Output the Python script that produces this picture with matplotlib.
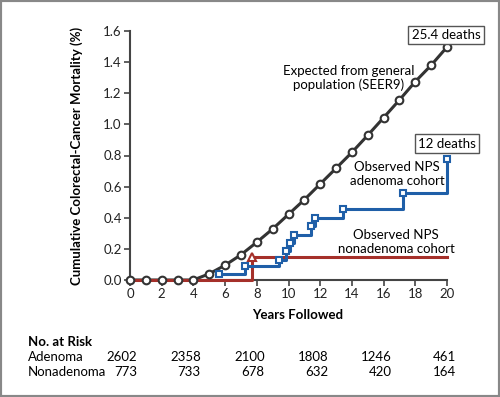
import matplotlib
matplotlib.use("Agg")
import matplotlib.pyplot as plt
from matplotlib.patches import Rectangle

# Data
exp_years = list(range(0, 21))
exp_vals = [0, 0, 0, 0, 0, 0.04, 0.095, 0.162, 0.243, 0.328, 0.422, 0.516, 0.617,
            0.718, 0.82, 0.93, 1.043, 1.157, 1.275, 1.38, 1.497]
aden_x = [5.6, 7.25, 9.4, 9.85, 10.1, 10.35, 11.4, 11.7, 13.45, 17.25, 20.0]
aden_y = [0.04, 0.09, 0.13, 0.185, 0.24, 0.29, 0.345, 0.40, 0.455, 0.56, 0.78]
non_x = [0, 7.7, 20]
non_y = [0, 0.145, 0.145]
risk_years = [0, 4, 8, 12, 16, 20]
risk_aden = ["2602", "2358", "2100", "1808", "1246", "461"]
risk_non = ["773", "733", "678", "632", "420", "164"]

plt.rcParams['font.family'] = ['Lato', 'DejaVu Sans']
FS = 9.5
W, H = 500, 397
fig = plt.figure(figsize=(W / 100, H / 100), dpi=100)
fig.patches.append(Rectangle((0, 0), 1, 1, transform=fig.transFigure, fill=False,
                             edgecolor='#888888', linewidth=3))

ax = fig.add_axes([130 / W, 1 - 280 / H, (447 - 130) / W, (280 - 31) / H])
black = '#333333'
blue = '#1f5fa8'
red = '#a5302a'
axc = '#444444'

ax.plot(exp_years, exp_vals, color=black, lw=2.2, zorder=3, clip_on=False)
ax.step(non_x, non_y, where='post', color=red, lw=2.2, zorder=4, clip_on=False)
ax.plot([non_x[1]], [non_y[1]], marker='^', ms=6, mfc='white', mec=red, mew=1.5,
        zorder=6, clip_on=False, ls='none')
ax.step(aden_x, aden_y, where='post', color=blue, lw=2.2, zorder=4, clip_on=False)
ax.plot(aden_x, aden_y, marker='s', ms=4.8, mfc='white', mec=blue, mew=1.5,
        ls='none', zorder=6, clip_on=False)
ax.plot(exp_years, exp_vals, marker='o', ms=5.5, mfc='white', mec=black, mew=1.5,
        ls='none', zorder=7, clip_on=False)

ax.set_xlim(0, 20)
ax.set_ylim(0, 1.6)
ax.set_xticks(range(0, 21, 2))
ax.set_yticks([i * 0.2 for i in range(9)])
ax.set_yticklabels([f"{i * 0.2:.1f}" for i in range(9)])
for s in ['top', 'right']:
    ax.spines[s].set_visible(False)
for s in ['left', 'bottom']:
    ax.spines[s].set_color(axc)
    ax.spines[s].set_linewidth(1.5)
ax.tick_params(direction='out', length=4, width=1.2, color=axc, labelsize=FS,
               labelcolor='#222222', pad=2)
ax.set_xlabel("Years Followed", fontsize=FS, fontweight='bold')
ax.set_ylabel("Cumulative Colorectal-Cancer Mortality (%)", fontsize=FS,
              fontweight='bold')
ax.xaxis.set_label_coords(0.53, -0.115)
ax.yaxis.set_label_coords(-0.148, 0.5)

bbox = dict(boxstyle='square,pad=0.25', fc='white', ec='#555555', lw=1)
def fx(px):
    return px / W
def fy(py):
    return 1 - py / H

fig.text(fx(446), fy(35), "25.4 deaths", ha='center', va='center', fontsize=FS, bbox=bbox)
fig.text(fx(447), fy(143.5), "12 deaths", ha='center', va='center', fontsize=FS, bbox=bbox)
fig.text(fx(349), fy(78), "Expected from general\npopulation (SEER9)", ha='center',
         va='center', fontsize=FS, linespacing=1.15)
fig.text(fx(397), fy(174), "Observed NPS\nadenoma cohort", ha='center',
         va='center', fontsize=FS, linespacing=1.15)
fig.text(fx(396), fy(242), "Observed NPS\nnonadenoma cohort", ha='center',
         va='center', fontsize=FS, linespacing=1.15)

# Number at risk table
fig.text(fx(28), fy(342), "No. at Risk", ha='left', va='center', fontsize=FS,
         fontweight='bold')
fig.text(fx(28), fy(357), "Adenoma", ha='left', va='center', fontsize=FS)
fig.text(fx(28), fy(372), "Nonadenoma", ha='left', va='center', fontsize=FS)
for yr, a, n in zip(risk_years, risk_aden, risk_non):
    xd = ax.transData.transform((yr, 0))[0]
    xr = xd + 7 + yr * 0.05 * 2 if yr < 20 else xd + 9
    fig.text(xr / W, fy(357), a, ha='right', va='center', fontsize=FS)
    fig.text(xr / W, fy(372), n, ha='right', va='center', fontsize=FS)

fig.savefig("out.png", dpi=100)
